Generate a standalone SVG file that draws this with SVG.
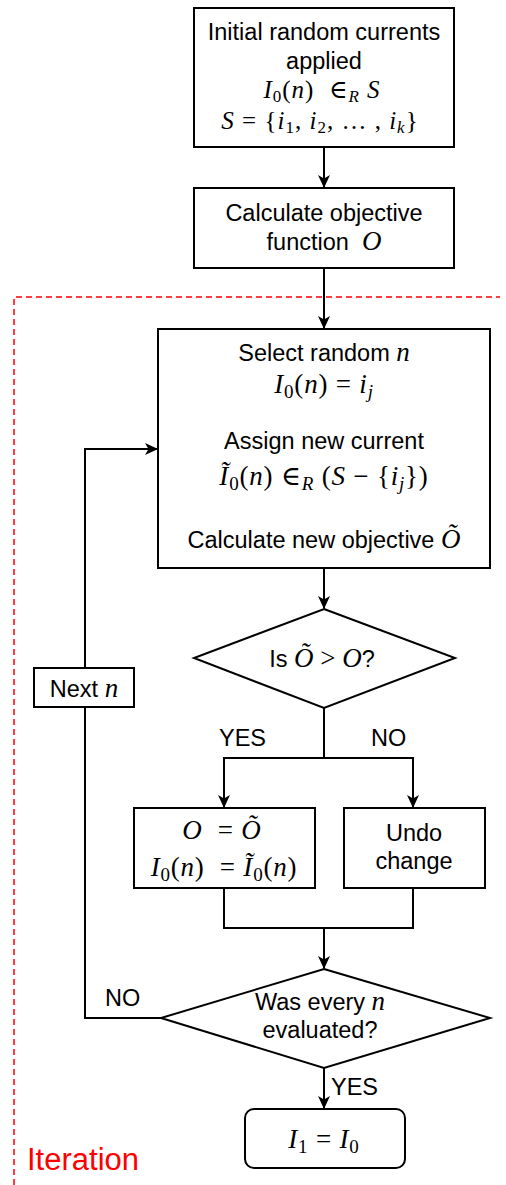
<svg xmlns="http://www.w3.org/2000/svg" width="506" height="1185" viewBox="0 0 506 1185">
<style>
.box{fill:#fff;stroke:#000;stroke-width:2}
.ln{fill:none;stroke:#000;stroke-width:2}
.t{font-family:"Liberation Sans",Arial,sans-serif;font-size:23.5px;text-anchor:middle;fill:#000}
.m{font-family:"Liberation Serif","DejaVu Serif",serif;font-size:27px;text-anchor:middle;fill:#000;letter-spacing:0.8px}
.m25{font-size:25px;letter-spacing:1px}
.mi{font-family:"Liberation Serif","DejaVu Serif",serif;font-size:27px;font-style:italic}
.i{font-style:italic}
.s{font-size:19px}
.s17{font-size:17px}
.lbl{font-family:"Liberation Sans",Arial,sans-serif;font-size:23.5px;fill:#000}
</style>
<defs>
<marker id="arr" markerWidth="14" markerHeight="14" refX="12" refY="6" orient="auto" markerUnits="userSpaceOnUse">
<path d="M0,0 L13,6 L0,12 L3.5,6 Z" fill="#000"/>
</marker>
</defs>
<rect width="506" height="1185" fill="#fff"/>
<g id="iteration-frame">
<path d="M14,1185 L14,297 L500,297" fill="none" stroke="#ff0000" stroke-width="1.5" stroke-dasharray="6 4"/>
<text x="27" y="1170" font-family="Liberation Sans,Arial,sans-serif" font-size="31" fill="#ff0000">Iteration</text>
</g>
<g id="connectors">
<path class="ln" d="M324,148 L324,187" marker-end="url(#arr)"/>
<path class="ln" d="M324,268 L324,328" marker-end="url(#arr)"/>
<path class="ln" d="M324,568 L324,608" marker-end="url(#arr)"/>
<path class="ln" d="M324,708 L324,758 L224,758 L224,807" marker-end="url(#arr)"/>
<path class="ln" d="M324,758 L413,758 L413,807" marker-end="url(#arr)"/>
<path class="ln" d="M224,888 L224,928 L413,928 L413,888"/>
<path class="ln" d="M324,928 L324,968" marker-end="url(#arr)"/>
<path class="ln" d="M161,1018 L85,1018 L85,707"/>
<path class="ln" d="M85,668 L85,449 L157,449" marker-end="url(#arr)"/>
<path class="ln" d="M324,1068 L324,1108" marker-end="url(#arr)"/>
<text class="lbl" x="219" y="746">YES</text>
<text class="lbl" x="371" y="746">NO</text>
<text class="lbl" x="105" y="1006">NO</text>
<text class="lbl" x="331" y="1095">YES</text>
</g>
<g id="init">
<rect class="box" x="194" y="8" width="260" height="139"/>
<text class="t" x="324" y="40">Initial random currents</text>
<text class="t" x="324" y="69">applied</text>
<text class="m m25" x="322" y="98"><tspan class="i">I</tspan><tspan class="s17" dy="4">0</tspan><tspan dy="-4">(</tspan><tspan class="i">n</tspan>)&#160;&#160;∈<tspan class="s17 i" dy="4">R</tspan><tspan dy="-4">&#160;</tspan><tspan class="i">S</tspan></text>
<text class="m m25" x="320" y="129"><tspan class="i">S</tspan>&#160;=&#160;{<tspan class="i">i</tspan><tspan class="s17" dy="4">1</tspan><tspan dy="-4">,&#160;</tspan><tspan class="i">i</tspan><tspan class="s17" dy="4">2</tspan><tspan dy="-4">,&#160;…&#160;,&#160;</tspan><tspan class="i">i</tspan><tspan class="s17 i" dy="4">k</tspan><tspan dy="-4">}</tspan></text>
</g>
<g id="objective">
<rect class="box" x="194" y="188" width="260" height="80"/>
<text class="t" x="324" y="221">Calculate objective</text>
<text class="t" x="324" y="250">function&#160;&#160;<tspan class="mi">O</tspan></text>
</g>
<g id="select">
<rect class="box" x="158" y="329" width="332" height="239"/>
<text class="t" x="324" y="361">Select random <tspan class="mi">n</tspan></text>
<text class="m" x="324" y="393"><tspan class="i">I</tspan><tspan class="s" dy="5">0</tspan><tspan dy="-5">(</tspan><tspan class="i">n</tspan>)&#160;=&#160;<tspan class="i">i</tspan><tspan class="s i" dy="5">j</tspan></text>
<text class="t" x="324" y="449">Assign new current</text>
<text class="m" x="324" y="485"><tspan class="i">Ĩ</tspan><tspan class="s" dy="5">0</tspan><tspan dy="-5">(</tspan><tspan class="i">n</tspan>)&#160;∈<tspan class="s i" dy="5">R</tspan><tspan dy="-5">&#160;(</tspan><tspan class="i">S</tspan>&#160;−&#160;{<tspan class="i">i</tspan><tspan class="s i" dy="5">j</tspan><tspan dy="-5">})</tspan></text>
<text class="t" x="324" y="548">Calculate new objective <tspan class="mi">Õ</tspan></text>
</g>
<g id="compare">
<polygon class="box" points="324,609 455,658 324,708 194,658"/>
<text class="t" x="322" y="667">Is <tspan class="mi">Õ</tspan><tspan font-family="Liberation Serif,serif" font-size="27">&#160;&gt;&#160;</tspan><tspan class="mi">O</tspan>?</text>
</g>
<g id="accept">
<rect class="box" x="134" y="808" width="181" height="80"/>
<text class="m" x="222" y="839"><tspan class="i">O</tspan>&#160;&#160;=&#160;<tspan class="i">Õ</tspan></text>
<text class="m" x="224" y="876"><tspan class="i">I</tspan><tspan class="s" dy="5">0</tspan><tspan dy="-5">(</tspan><tspan class="i">n</tspan>)&#160;&#160;=&#160;<tspan class="i">Ĩ</tspan><tspan class="s" dy="5">0</tspan><tspan dy="-5">(</tspan><tspan class="i">n</tspan>)</text>
</g>
<g id="undo">
<rect class="box" x="344" y="808" width="141" height="80"/>
<text class="t" x="414" y="841">Undo</text>
<text class="t" x="414" y="869">change</text>
</g>
<g id="next">
<rect class="box" x="34" y="668" width="100" height="39"/>
<text class="t" x="84" y="697">Next <tspan class="mi">n</tspan></text>
</g>
<g id="all-evaluated">
<polygon class="box" points="324,969 490,1018 324,1068 161,1018"/>
<text class="t" x="320" y="1010">Was every <tspan class="mi">n</tspan></text>
<text class="t" x="320" y="1038">evaluated?</text>
</g>
<g id="result">
<rect class="box" x="245" y="1109" width="160" height="59" rx="9"/>
<text class="m" x="324" y="1148"><tspan class="i">I</tspan><tspan class="s" dy="5">1</tspan><tspan dy="-5">&#160;=&#160;</tspan><tspan class="i">I</tspan><tspan class="s" dy="5">0</tspan></text>
</g>
</svg>
